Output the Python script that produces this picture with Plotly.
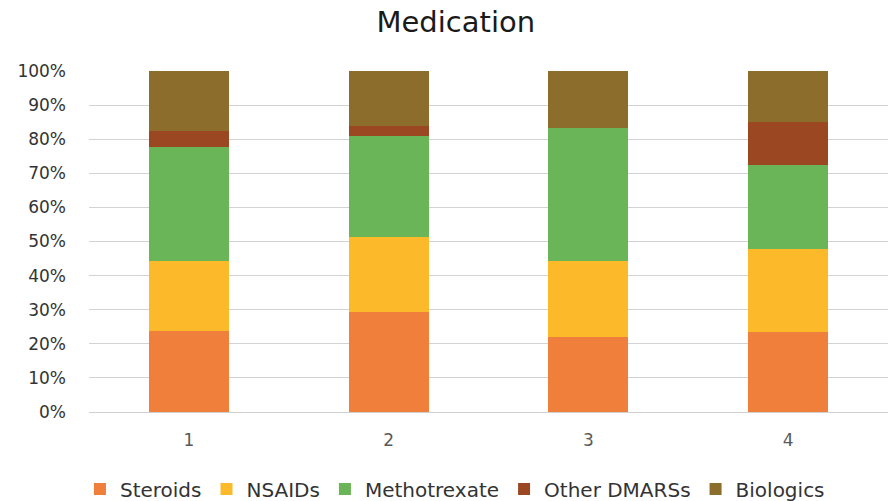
import plotly.graph_objects as go

# Share of each medication class per group (percent of total)
groups = ["1", "2", "3", "4"]
steroids = [23.7, 29.4, 22.0, 23.4]
nsaids = [20.5, 21.9, 22.2, 24.5]
methotrexate = [33.4, 29.7, 39.0, 24.6]
other_dmards = [4.8, 2.9, 0.0, 12.5]
biologics = [17.6, 16.1, 16.8, 15.0]

series_names = ["Steroids", "NSAIDs", "Methotrexate", "Other DMARSs", "Biologics"]
series_values = [steroids, nsaids, methotrexate, other_dmards, biologics]
series_colors = ["#F07F3B", "#FCBA2A", "#6AB557", "#9B4822", "#8C6D2C"]

fig = go.Figure()
for name, vals, col in zip(series_names, series_values, series_colors):
    fig.add_trace(go.Bar(
        x=groups, y=vals, name=name,
        marker=dict(color=col, line=dict(width=0)),
        hoverinfo="x+y+name",
    ))

font_family = "DejaVu Sans, Open Sans, sans-serif"

fig.update_layout(
    barmode="stack",
    barnorm="percent",
    bargap=0.6,
    width=892, height=501,
    margin=dict(l=89, r=4, t=71, b=89, autoexpand=False),
    paper_bgcolor="white",
    plot_bgcolor="white",
    title=dict(text="Medication", x=0.511, xanchor="center", y=0.956, yanchor="middle",
               font=dict(family=font_family, size=29, color="#1a1a1a")),
    font=dict(family=font_family, color="#595959"),
    showlegend=True,
    legend=dict(orientation="h", x=0.458, xanchor="center",
                yref="container", y=0.024, yanchor="middle",
                font=dict(size=20, color="#333333"),
                traceorder="normal", itemsizing="constant"),
    xaxis=dict(
        showgrid=False, showline=True, linecolor="#D0D0D0", linewidth=1,
        tickfont=dict(size=17, color="#595959"), ticks="", ticklabelstandoff=13,
    ),
    yaxis=dict(
        range=[0, 100], dtick=10, ticksuffix="%",
        showgrid=True, gridcolor="#D3D3D3", gridwidth=1,
        zeroline=False, showline=False, ticks="",
        tickfont=dict(size=17, color="#333333"), ticklabelstandoff=22,
    ),
)

fig.write_html("out.html")
